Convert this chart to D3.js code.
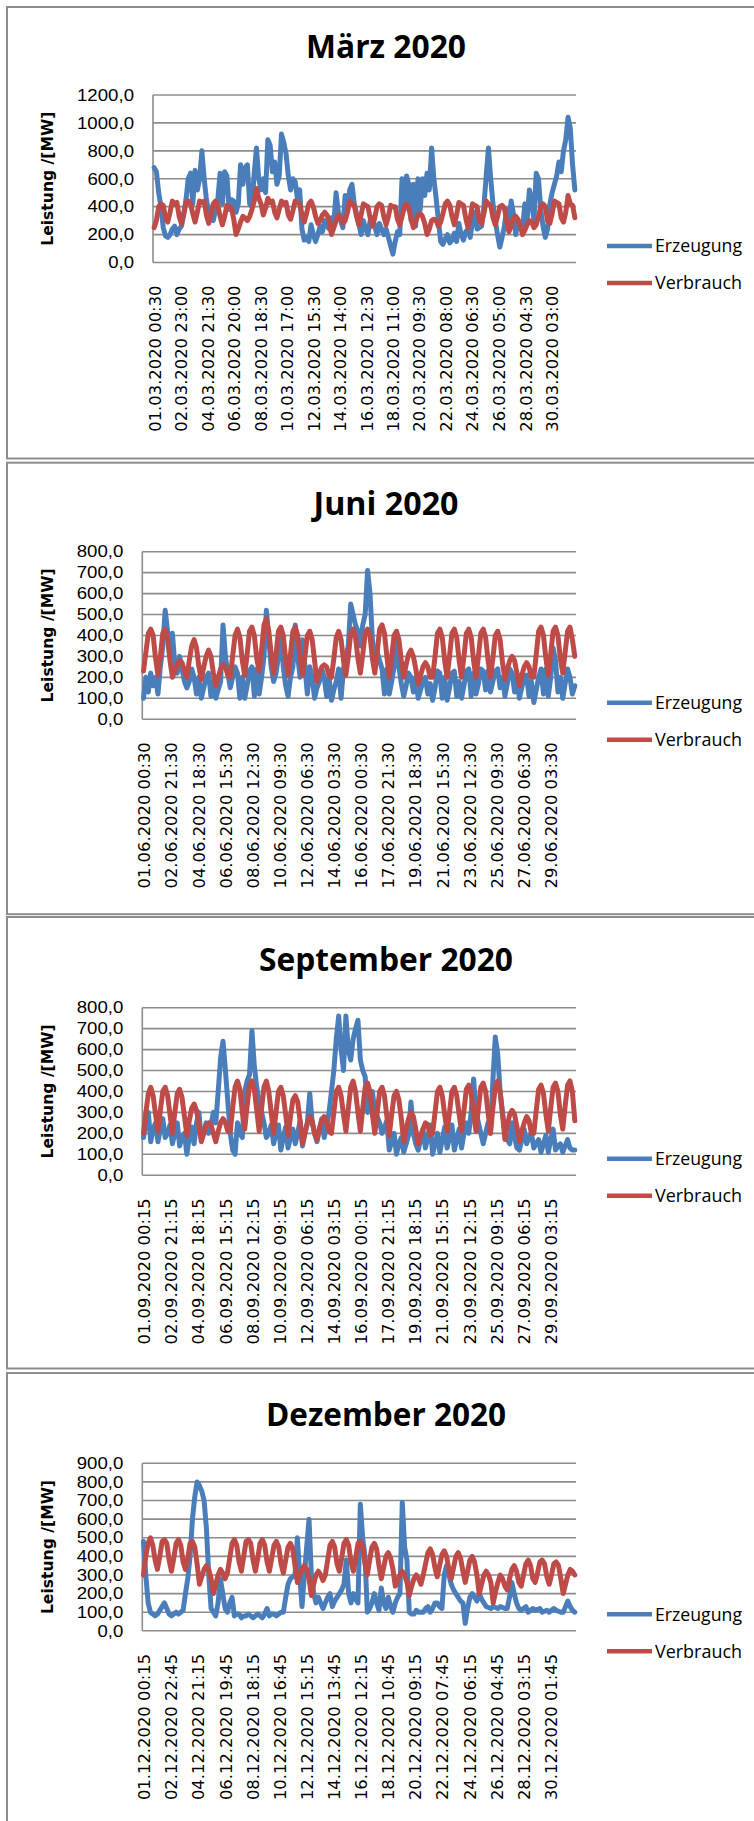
<!DOCTYPE html>
<html>
<head>
<meta charset="utf-8">
<script src="https://cdn.jsdelivr.net/npm/d3@7"></script>
<style>
  body { margin: 0; background: #fff; }
  svg { display: block; }
</style>
</head>
<body>
<svg id="chart" width="754" height="1821"></svg>
<script>
// ---- Leistungswerte in MW, sechs Werte je Tag (02, 06, 10, 14, 18, 22 Uhr) ----
const erzeugungMaerz = [
  680,650,500,400,250,190, 180,200,240,260,200,240, 260,340,450,600,640,420, 660,520,600,800,600,450,
  360,320,300,380,450,640, 420,650,620,380,450,440, 360,420,700,560,680,700, 420,400,640,820,600,520,
  600,500,880,840,650,720, 560,620,920,860,780,620, 520,600,580,460,520,240, 160,180,150,270,200,150,
  200,260,220,300,260,240, 320,280,500,360,300,250, 480,380,520,560,420,350, 280,200,300,240,200,300,
  320,260,200,280,240,200, 240,180,120,60,150,220,  200,600,380,620,560,300, 560,260,600,380,600,480,
  640,520,820,600,460,300, 150,130,170,200,140,160, 210,150,280,200,160,220, 240,180,300,360,240,250,
  260,400,620,820,600,420, 300,200,110,180,260,380, 300,440,350,200,300,260, 240,420,300,520,450,300,
  640,600,380,260,180,240, 420,500,560,620,720,650, 800,880,1040,960,700,520
];
const verbrauchMaerz = [
  250,300,400,420,410,320, 290,360,440,420,430,330, 280,350,430,440,420,350, 290,360,440,430,440,340,
  280,350,420,440,410,330, 270,330,410,400,390,310, 200,240,290,330,320,300, 330,380,440,530,460,420,
  340,390,460,430,440,360, 320,380,440,420,430,340, 310,370,440,430,420,340, 290,350,420,440,400,330,
  280,300,340,360,340,300, 200,250,300,340,320,280, 300,360,440,420,410,330, 270,340,420,410,400,320,
  260,320,400,420,410,330, 270,330,410,400,400,310, 270,330,400,420,390,310, 250,290,340,350,330,280,
  200,240,300,310,300,260, 290,350,420,440,410,330, 270,340,430,420,410,320, 250,320,420,410,400,300,
  280,350,440,420,410,320, 270,330,400,410,390,300, 220,260,320,330,310,260, 200,230,270,300,290,250,
  270,330,400,420,400,300, 280,350,440,430,420,320, 290,360,480,420,410,320
];
const erzeugungJuni = [
  100,200,130,220,160,200, 120,250,350,520,420,300, 410,260,220,300,240,180, 150,180,240,200,120,200,
  100,150,200,220,110,180, 100,140,180,450,300,220, 150,200,250,220,100,200, 100,160,230,250,110,240,
  120,200,300,520,380,250, 180,220,300,430,250,160, 110,200,250,450,300,200, 380,250,120,250,200,100,
  150,180,240,200,110,200, 90,140,180,240,100,240,  300,350,550,500,450,420, 350,450,500,710,600,380,
  300,320,280,240,120,240, 120,180,250,400,250,170, 110,160,220,200,130,200, 100,140,180,200,120,170,
  90,150,230,220,100,200,  90,150,220,230,110,180,  100,160,230,240,110,220, 120,170,240,230,140,230,
  130,180,230,240,150,200, 110,170,240,220,130,190, 100,150,200,210,110,180, 80,140,200,240,120,240,
  110,200,340,280,130,200, 100,170,240,200,120,160
];
const verbrauchJuni = [
  230,320,410,430,400,290, 210,300,410,430,380,280, 200,230,260,280,270,230, 200,280,350,380,340,250,
  190,250,300,330,300,220, 160,200,240,260,250,210, 200,300,400,430,390,280, 210,310,420,440,400,290,
  230,330,450,480,420,310, 220,310,420,440,400,290, 210,310,420,440,400,290, 210,300,400,420,380,280,
  180,220,250,260,250,210, 200,290,390,420,380,280, 210,300,410,430,390,290, 220,310,410,430,400,290,
  220,320,430,450,410,300, 200,300,400,420,380,280, 200,260,310,330,300,240, 170,210,250,270,250,200,
  200,300,410,430,390,280, 200,300,410,430,390,280, 200,300,410,430,390,280, 200,300,410,430,390,280,
  200,290,400,420,380,270, 190,240,280,300,280,220, 160,210,250,270,250,200, 200,310,420,440,400,290,
  210,310,420,440,400,290, 220,320,420,440,380,300
];
const erzeugungSeptember = [
  180,250,300,160,220,250, 160,220,270,180,200,240, 150,200,250,140,180,200, 100,180,230,150,250,300,
  170,200,250,200,240,300, 250,400,560,640,500,350, 200,120,100,250,200,180, 400,450,480,690,520,420,
  350,300,250,180,200,240, 150,200,240,120,180,230, 130,180,220,150,200,260, 140,200,250,390,250,200,
  160,220,270,180,240,300, 400,500,650,760,600,500, 760,600,550,650,700,740, 550,500,470,300,350,400,
  300,280,250,200,230,260, 120,160,200,100,150,180, 110,150,190,350,200,150, 120,170,220,130,180,240,
  100,150,200,110,170,230, 130,180,240,120,170,220, 130,200,250,200,300,460, 300,250,200,150,200,250,
  200,450,660,580,400,300, 200,170,150,250,180,130, 120,170,220,150,180,200, 130,150,170,110,150,190,
  110,170,220,120,140,150, 110,140,170,130,120,120
];
const verbrauchSeptember = [
  200,300,390,420,380,290, 210,310,400,420,380,290, 200,300,390,410,370,280, 190,260,320,340,310,240,
  160,200,240,250,240,200, 160,210,250,270,250,210, 210,320,420,450,410,300, 220,330,430,450,410,310,
  210,320,420,450,400,300, 200,300,400,420,380,290, 190,280,360,380,350,260, 150,200,250,280,260,200,
  170,220,260,280,260,210, 200,300,400,420,380,290, 210,320,420,450,400,300, 210,320,420,440,400,290,
  200,300,400,420,380,280, 190,290,380,400,360,270, 160,220,270,300,280,220, 150,190,220,250,240,190,
  200,300,400,420,380,290, 210,300,400,420,380,290, 210,310,410,430,390,290, 210,320,420,440,400,300,
  200,320,420,450,400,290, 170,240,290,310,290,230, 160,210,250,280,260,200, 200,310,410,430,390,290,
  210,320,420,440,400,290, 220,330,430,450,400,260
];
const erzeugungDezember = [
  480,300,150,100,90,80,   90,110,130,150,120,90,  80,90,100,90,100,110,   200,280,400,600,720,800,
  780,750,700,550,300,120, 100,80,150,280,200,120, 100,150,180,80,90,90,   70,80,80,90,80,70,
  80,90,80,70,90,120,      80,90,90,80,90,100,     100,180,250,280,290,300, 500,300,130,300,450,600,
  300,200,150,180,150,120, 150,180,200,130,160,180, 200,220,250,380,200,150, 200,170,150,680,500,400,
  100,120,150,200,150,110, 230,150,120,180,130,100, 150,180,200,690,450,380, 100,90,90,110,100,100,
  100,120,130,100,120,150, 150,130,120,300,350,300, 250,220,200,180,160,150, 40,120,180,200,180,160,
  200,170,150,130,125,120, 130,125,120,130,125,120, 120,180,260,200,150,120, 110,120,130,100,110,120,
  110,115,120,100,105,110, 100,110,120,110,105,100, 100,130,160,130,110,100
];
const verbrauchDezember = [
  300,400,470,500,460,380, 330,400,480,490,470,380, 320,390,470,490,460,370, 330,390,470,480,450,360,
  250,290,330,350,330,280, 200,250,300,330,310,280, 310,390,470,490,460,370, 320,400,480,490,470,380,
  320,390,470,490,460,370, 320,390,460,480,450,360, 310,380,450,470,440,350, 260,300,330,350,330,280,
  190,250,300,320,300,270, 300,380,460,480,450,360, 320,390,470,490,460,370, 320,390,470,480,450,360,
  300,380,450,470,440,350, 280,340,400,420,390,330, 240,270,300,320,300,260, 190,240,280,300,280,250,
  300,360,420,440,410,340, 290,350,410,430,400,330, 280,340,400,420,390,320, 260,320,380,400,370,300,
  200,250,300,320,300,260, 150,210,260,300,280,240, 220,280,330,350,320,260, 240,300,360,380,350,280,
  260,310,370,380,360,290, 250,300,360,370,350,280, 200,250,300,330,320,300
];

// ---- Achsenbeschriftungen (Zeitstempel) ----
const labelsMaerz = ["01.03.2020 00:30","02.03.2020 23:00","04.03.2020 21:30","06.03.2020 20:00",
  "08.03.2020 18:30","10.03.2020 17:00","12.03.2020 15:30","14.03.2020 14:00","16.03.2020 12:30",
  "18.03.2020 11:00","20.03.2020 09:30","22.03.2020 08:00","24.03.2020 06:30","26.03.2020 05:00",
  "28.03.2020 04:30","30.03.2020 03:00"];
const labelsJuni = ["01.06.2020 00:30","02.06.2020 21:30","04.06.2020 18:30","06.06.2020 15:30",
  "08.06.2020 12:30","10.06.2020 09:30","12.06.2020 06:30","14.06.2020 03:30","16.06.2020 00:30",
  "17.06.2020 21:30","19.06.2020 18:30","21.06.2020 15:30","23.06.2020 12:30","25.06.2020 09:30",
  "27.06.2020 06:30","29.06.2020 03:30"];
const labelsSeptember = ["01.09.2020 00:15","02.09.2020 21:15","04.09.2020 18:15","06.09.2020 15:15",
  "08.09.2020 12:15","10.09.2020 09:15","12.09.2020 06:15","14.09.2020 03:15","16.09.2020 00:15",
  "17.09.2020 21:15","19.09.2020 18:15","21.09.2020 15:15","23.09.2020 12:15","25.09.2020 09:15",
  "27.09.2020 06:15","29.09.2020 03:15"];
const labelsDezember = ["01.12.2020 00:15","02.12.2020 22:45","04.12.2020 21:15","06.12.2020 19:45",
  "08.12.2020 18:15","10.12.2020 16:45","12.12.2020 15:15","14.12.2020 13:45","16.12.2020 12:15",
  "18.12.2020 10:45","20.12.2020 09:15","22.12.2020 07:45","24.12.2020 06:15","26.12.2020 04:45",
  "28.12.2020 03:15","30.12.2020 01:45"];

const seriesNames = ["Erzeugung", "Verbrauch"];
const seriesColors = ["#4a7ebb", "#be4b48"];

const months = [
  { title: "März 2020",      days: 31, slotMin: 30, yMax: 1200, yStep: 200, labels: labelsMaerz,      erz: erzeugungMaerz,      ver: verbrauchMaerz },
  { title: "Juni 2020",      days: 30, slotMin: 30, yMax: 800,  yStep: 100, labels: labelsJuni,       erz: erzeugungJuni,       ver: verbrauchJuni },
  { title: "September 2020", days: 30, slotMin: 15, yMax: 800,  yStep: 100, labels: labelsSeptember,  erz: erzeugungSeptember,  ver: verbrauchSeptember },
  { title: "Dezember 2020",  days: 31, slotMin: 15, yMax: 900,  yStep: 100, labels: labelsDezember,   erz: erzeugungDezember,   ver: verbrauchDezember }
];

// Layout of the four stacked chart frames
const frames = [
  { top: 7,     plotTop: 95,     plotLeft: 153,   titleW: 160 },
  { top: 462.7, plotTop: 551.7,  plotLeft: 142.3, titleW: 145 },
  { top: 917,   plotTop: 1007.7, plotLeft: 142.3, titleW: 254 },
  { top: 1373,  plotTop: 1463.3, plotLeft: 142.3, titleW: 240 }
];
const plotRight = 576;
const plotH = 167.5;
const samplesPerDay = 6;

const de = d3.formatLocale({ decimal: ",", thousands: ".", grouping: [3], currency: ["", " €"] });
const fmt = de.format(".1f");

const svg = d3.select("#chart");
const gridColor = "#8c8c8c";

// position of a timestamp label in days since month start (category centre)
function labelPos(s, slotMin) {
  const [d, t] = s.split(" ");
  const day = +d.slice(0, 2);
  const [hh, mm] = t.split(":").map(Number);
  return (day - 1) + (hh * 60 + mm - slotMin / 2) / 1440;
}

// narrow label widths: digits ~10.4px, comma ~5px
const tickLabelWidth = s => s.replace(/[^0-9]/g, "").length * 10.4 + 5;

months.forEach((m, idx) => {
  const f = frames[idx];
  const g = svg.append("g");

  // chart frame
  g.append("rect")
    .attr("x", 7).attr("y", f.top)
    .attr("width", 820).attr("height", 451.5)
    .attr("fill", "none").attr("stroke", gridColor).attr("stroke-width", 2);

  // title
  g.append("text")
    .attr("x", 386).attr("y", f.plotTop - 37)
    .attr("text-anchor", "middle")
    .attr("font-family", "'Open Sans', sans-serif")
    .attr("font-weight", 700)
    .attr("font-size", 33)
    .attr("textLength", f.titleW)
    .attr("lengthAdjust", "spacingAndGlyphs")
    .attr("fill", "#000")
    .text(m.title);

  const plotBottom = f.plotTop + plotH;
  const x = d3.scaleLinear().domain([0, m.days]).range([f.plotLeft, plotRight]);
  const y = d3.scaleLinear().domain([0, m.yMax]).range([plotBottom, f.plotTop]);
  const yTicks = d3.range(0, m.yMax + 1, m.yStep);

  // horizontal gridlines
  g.append("g").selectAll("line").data(yTicks).join("line")
    .attr("x1", f.plotLeft).attr("x2", plotRight)
    .attr("y1", d => y(d)).attr("y2", d => y(d))
    .attr("stroke", gridColor).attr("stroke-width", 1.6);

  // value axis line
  g.append("line")
    .attr("x1", f.plotLeft).attr("x2", f.plotLeft)
    .attr("y1", f.plotTop).attr("y2", plotBottom)
    .attr("stroke", gridColor).attr("stroke-width", 1.6);

  // y axis labels
  const yAxis = g.append("g")
    .attr("transform", `translate(${f.plotLeft},0)`)
    .call(d3.axisLeft(y).tickValues(yTicks).tickFormat(fmt).tickSize(0).tickPadding(19));
  yAxis.select(".domain").remove();
  yAxis.selectAll("text")
    .attr("font-family", "'Liberation Sans', sans-serif")
    .attr("font-size", 16.4)
    .attr("fill", "#000")
    .attr("textLength", d => tickLabelWidth(fmt(d)))
    .attr("lengthAdjust", "spacingAndGlyphs");

  // y axis title
  g.append("text")
    .attr("transform", `translate(48,${(f.plotTop + plotBottom) / 2}) rotate(-90)`)
    .attr("text-anchor", "middle")
    .attr("dy", "0.35em")
    .attr("font-family", "'DejaVu Sans', sans-serif")
    .attr("font-weight", 700)
    .attr("font-size", 15.6)
    .attr("fill", "#000")
    .text("Leistung /[MW]");

  // x axis labels, rotated
  const xAxis = g.append("g")
    .attr("transform", `translate(0,${plotBottom})`)
    .call(d3.axisBottom(x)
      .tickValues(m.labels.map(s => labelPos(s, m.slotMin)))
      .tickFormat((d, i) => m.labels[i])
      .tickSize(0));
  xAxis.select(".domain").remove();
  xAxis.selectAll("text")
    .attr("transform", "rotate(-90)")
    .attr("x", -23).attr("y", 0).attr("dy", "0.45em")
    .style("text-anchor", "end")
    .attr("font-family", "'DejaVu Sans', sans-serif")
    .attr("font-size", 16.4)
    .attr("fill", "#000");

  // series lines
  const line = d3.line()
    .x((d, i) => x((i + 0.5) / samplesPerDay))
    .y(d => y(d));
  [m.erz, m.ver].forEach((vals, s) => {
    g.append("path")
      .datum(vals)
      .attr("d", line)
      .attr("fill", "none")
      .attr("stroke", seriesColors[s])
      .attr("stroke-width", 5)
      .attr("stroke-linejoin", "round")
      .attr("stroke-linecap", "round");
  });

  // legend
  seriesNames.forEach((name, s) => {
    const ly = f.plotTop + (s === 0 ? 151 : 188);
    g.append("line")
      .attr("x1", 607).attr("x2", 652)
      .attr("y1", ly).attr("y2", ly)
      .attr("stroke", seriesColors[s]).attr("stroke-width", 4.5);
    g.append("text")
      .attr("x", 655).attr("y", ly).attr("dy", "0.36em")
      .attr("font-family", "'Open Sans', sans-serif")
      .attr("font-size", 18)
      .attr("textLength", 87)
      .attr("lengthAdjust", "spacingAndGlyphs")
      .attr("fill", "#000")
      .text(name);
  });
});
</script>
</body>
</html>
